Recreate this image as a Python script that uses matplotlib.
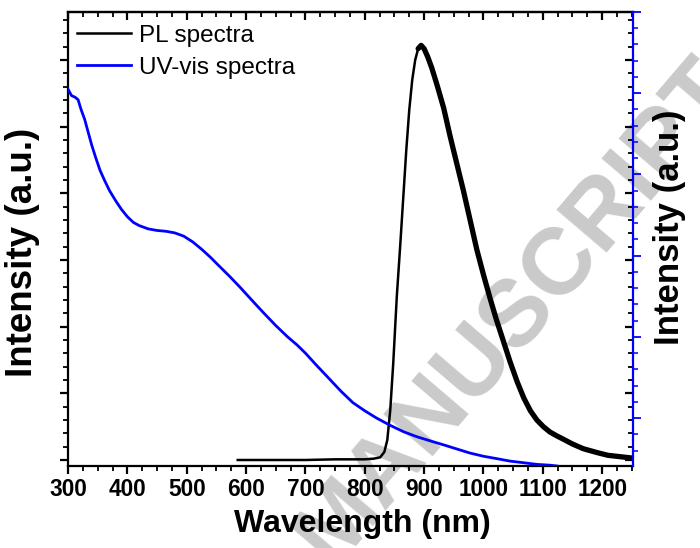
import matplotlib
matplotlib.use("Agg")
import matplotlib.pyplot as plt
import numpy as np
from matplotlib.ticker import MultipleLocator

plt.rcParams['font.family'] = ['Liberation Sans', 'DejaVu Sans']

# PL spectrum (left axis, arbitrary units)
pl_nm = [586, 650, 700, 750, 800, 815, 826, 833, 838, 843, 848, 854, 860, 865,
         870, 875, 880, 885, 890, 895, 900, 906, 913, 922, 933, 944, 955, 966,
         977, 989, 1000, 1011, 1022, 1033, 1045, 1057, 1068, 1079, 1090, 1101,
         1112, 1124, 1135, 1150, 1168, 1192, 1210, 1230, 1250]
pl_int = [0.0, 0.0, 0.0, 0.01, 0.01, 0.02, 0.04, 0.12, 0.3, 0.75, 1.45, 2.45,
          3.25, 3.95, 4.65, 5.25, 5.7, 6.0, 6.17, 6.22, 6.17, 6.05, 5.88, 5.62,
          5.28, 4.85, 4.45, 4.05, 3.62, 3.15, 2.78, 2.43, 2.1, 1.8, 1.47, 1.17,
          0.93, 0.74, 0.6, 0.5, 0.42, 0.36, 0.31, 0.24, 0.17, 0.11, 0.07, 0.05,
          0.03]

# UV-vis spectrum (right axis, arbitrary units)
uv_nm = [300, 306, 312, 317, 322, 328, 334, 340, 347, 354, 362, 370, 380, 390,
         400, 410, 420, 435, 450, 465, 480, 495, 510, 525, 540, 555, 573, 590,
         610, 629, 650, 670, 686, 700, 720, 742, 760, 780, 800, 820, 843, 866,
         888, 910, 933, 955, 977, 1000, 1023, 1045, 1068, 1090, 1112, 1124]
uv_abs = [5.05, 4.97, 4.95, 4.92, 4.80, 4.68, 4.52, 4.36, 4.20, 4.05, 3.92, 3.80,
          3.68, 3.57, 3.48, 3.41, 3.37, 3.33, 3.31, 3.30, 3.28, 3.24, 3.17, 3.08,
          2.98, 2.87, 2.74, 2.61, 2.45, 2.30, 2.14, 2.00, 1.90, 1.80, 1.64, 1.47,
          1.33, 1.19, 1.09, 1.00, 0.91, 0.83, 0.77, 0.72, 0.67, 0.62, 0.57, 0.53,
          0.50, 0.47, 0.45, 0.43, 0.42, 0.41]

x_ticks = [300, 400, 500, 600, 700, 800, 900, 1000, 1100, 1200]

fig = plt.figure(figsize=(7, 5.48), dpi=100)
ax = fig.add_axes([68/700, (548-466)/548, 565/700, 454/548])
ax.patch.set_alpha(0)
ax2 = ax.twinx()
ax2.patch.set_alpha(0)

# watermark
fig.text(332/700, -19/548, "MANUSCRIPT", rotation=49.5, rotation_mode='anchor',
         ha='left', va='baseline', fontsize=68, fontweight='bold',
         color='#cacaca', zorder=-5)

pl_line, = ax.plot(pl_nm, pl_int, color='black', lw=1.8, label='PL spectra')
pl_nm_a = np.array(pl_nm)
noisy = pl_nm_a >= 886
ax.plot(pl_nm_a[noisy], np.array(pl_int)[noisy], color='black', lw=3.8,
        solid_capstyle='round')
uv_line, = ax2.plot(uv_nm, uv_abs, color='#0000ff', lw=2.0, label='UV-vis spectra')

ax.set_xlim(300, 1252)
ax.set_ylim(-0.09, 6.72)
ax2.set_ylim(0.41, 6.0)

ax.set_xticks(x_ticks)
ax.xaxis.set_minor_locator(MultipleLocator(25))
ax.set_yticks(range(0, 7))
ax.yaxis.set_minor_locator(MultipleLocator(0.2))
ax.tick_params(axis='y', which='both', left=True, right=False, labelleft=False,
               direction='out')
ax.tick_params(axis='x', which='both', direction='out', labelsize=16.3, pad=3)
ax.tick_params(which='major', length=6, width=1.6)
ax.tick_params(which='minor', length=3.5, width=1.3)
for lab in ax.get_xticklabels():
    lab.set_fontweight('bold')

ax2.set_yticks(range(1, 7))
ax2.yaxis.set_minor_locator(MultipleLocator(0.2))
ax2.tick_params(axis='y', which='both', colors='#0000ff', labelright=False,
                direction='out')
ax2.tick_params(which='major', length=6, width=1.3)
ax2.tick_params(which='minor', length=3.5, width=1.1)

for s in ['left', 'top', 'bottom']:
    ax2.spines[s].set_visible(False)
ax2.spines['right'].set_color('#0000ff')
ax2.spines['right'].set_linewidth(1.6)
ax.spines['right'].set_visible(False)
for s in ['left', 'top', 'bottom']:
    ax.spines[s].set_linewidth(1.6)

# mirrored inward ticks (top and right)
secx = ax.secondary_xaxis('top')
secx.set_xticks(x_ticks)
secx.xaxis.set_minor_locator(MultipleLocator(25))
secx.tick_params(which='both', direction='in', labeltop=False)
secx.tick_params(which='major', length=6, width=1.6)
secx.tick_params(which='minor', length=3.5, width=1.3)
secx.spines['top'].set_linewidth(1.6)

secy = ax.secondary_yaxis('right')
secy.set_yticks(range(0, 7))
secy.yaxis.set_minor_locator(MultipleLocator(0.2))
secy.tick_params(which='both', direction='in', labelright=False)
secy.tick_params(which='major', length=6, width=1.6)
secy.tick_params(which='minor', length=3.5, width=1.3)
secy.spines['right'].set_visible(False)

ax.set_xlabel('Wavelength (nm)', fontsize=23, fontweight='bold')
ax.xaxis.set_label_coords(0.521, -0.095)
ax.set_ylabel('Intensity (a.u.)', fontsize=26.5, fontweight='bold')
ax.yaxis.set_label_coords(-0.05, 0.471)
ax2.set_ylabel('Intensity (a.u.)', fontsize=25, fontweight='bold')
ax2.yaxis.set_label_coords(1.035, 0.525)

ax.legend(handles=[pl_line, uv_line], loc='upper left', frameon=False,
          fontsize=17.5, bbox_to_anchor=(0.016, 0.972), borderaxespad=0,
          borderpad=0, handlelength=2.2, handletextpad=0.35, labelspacing=0.42)

fig.savefig('out.png', dpi=100)
